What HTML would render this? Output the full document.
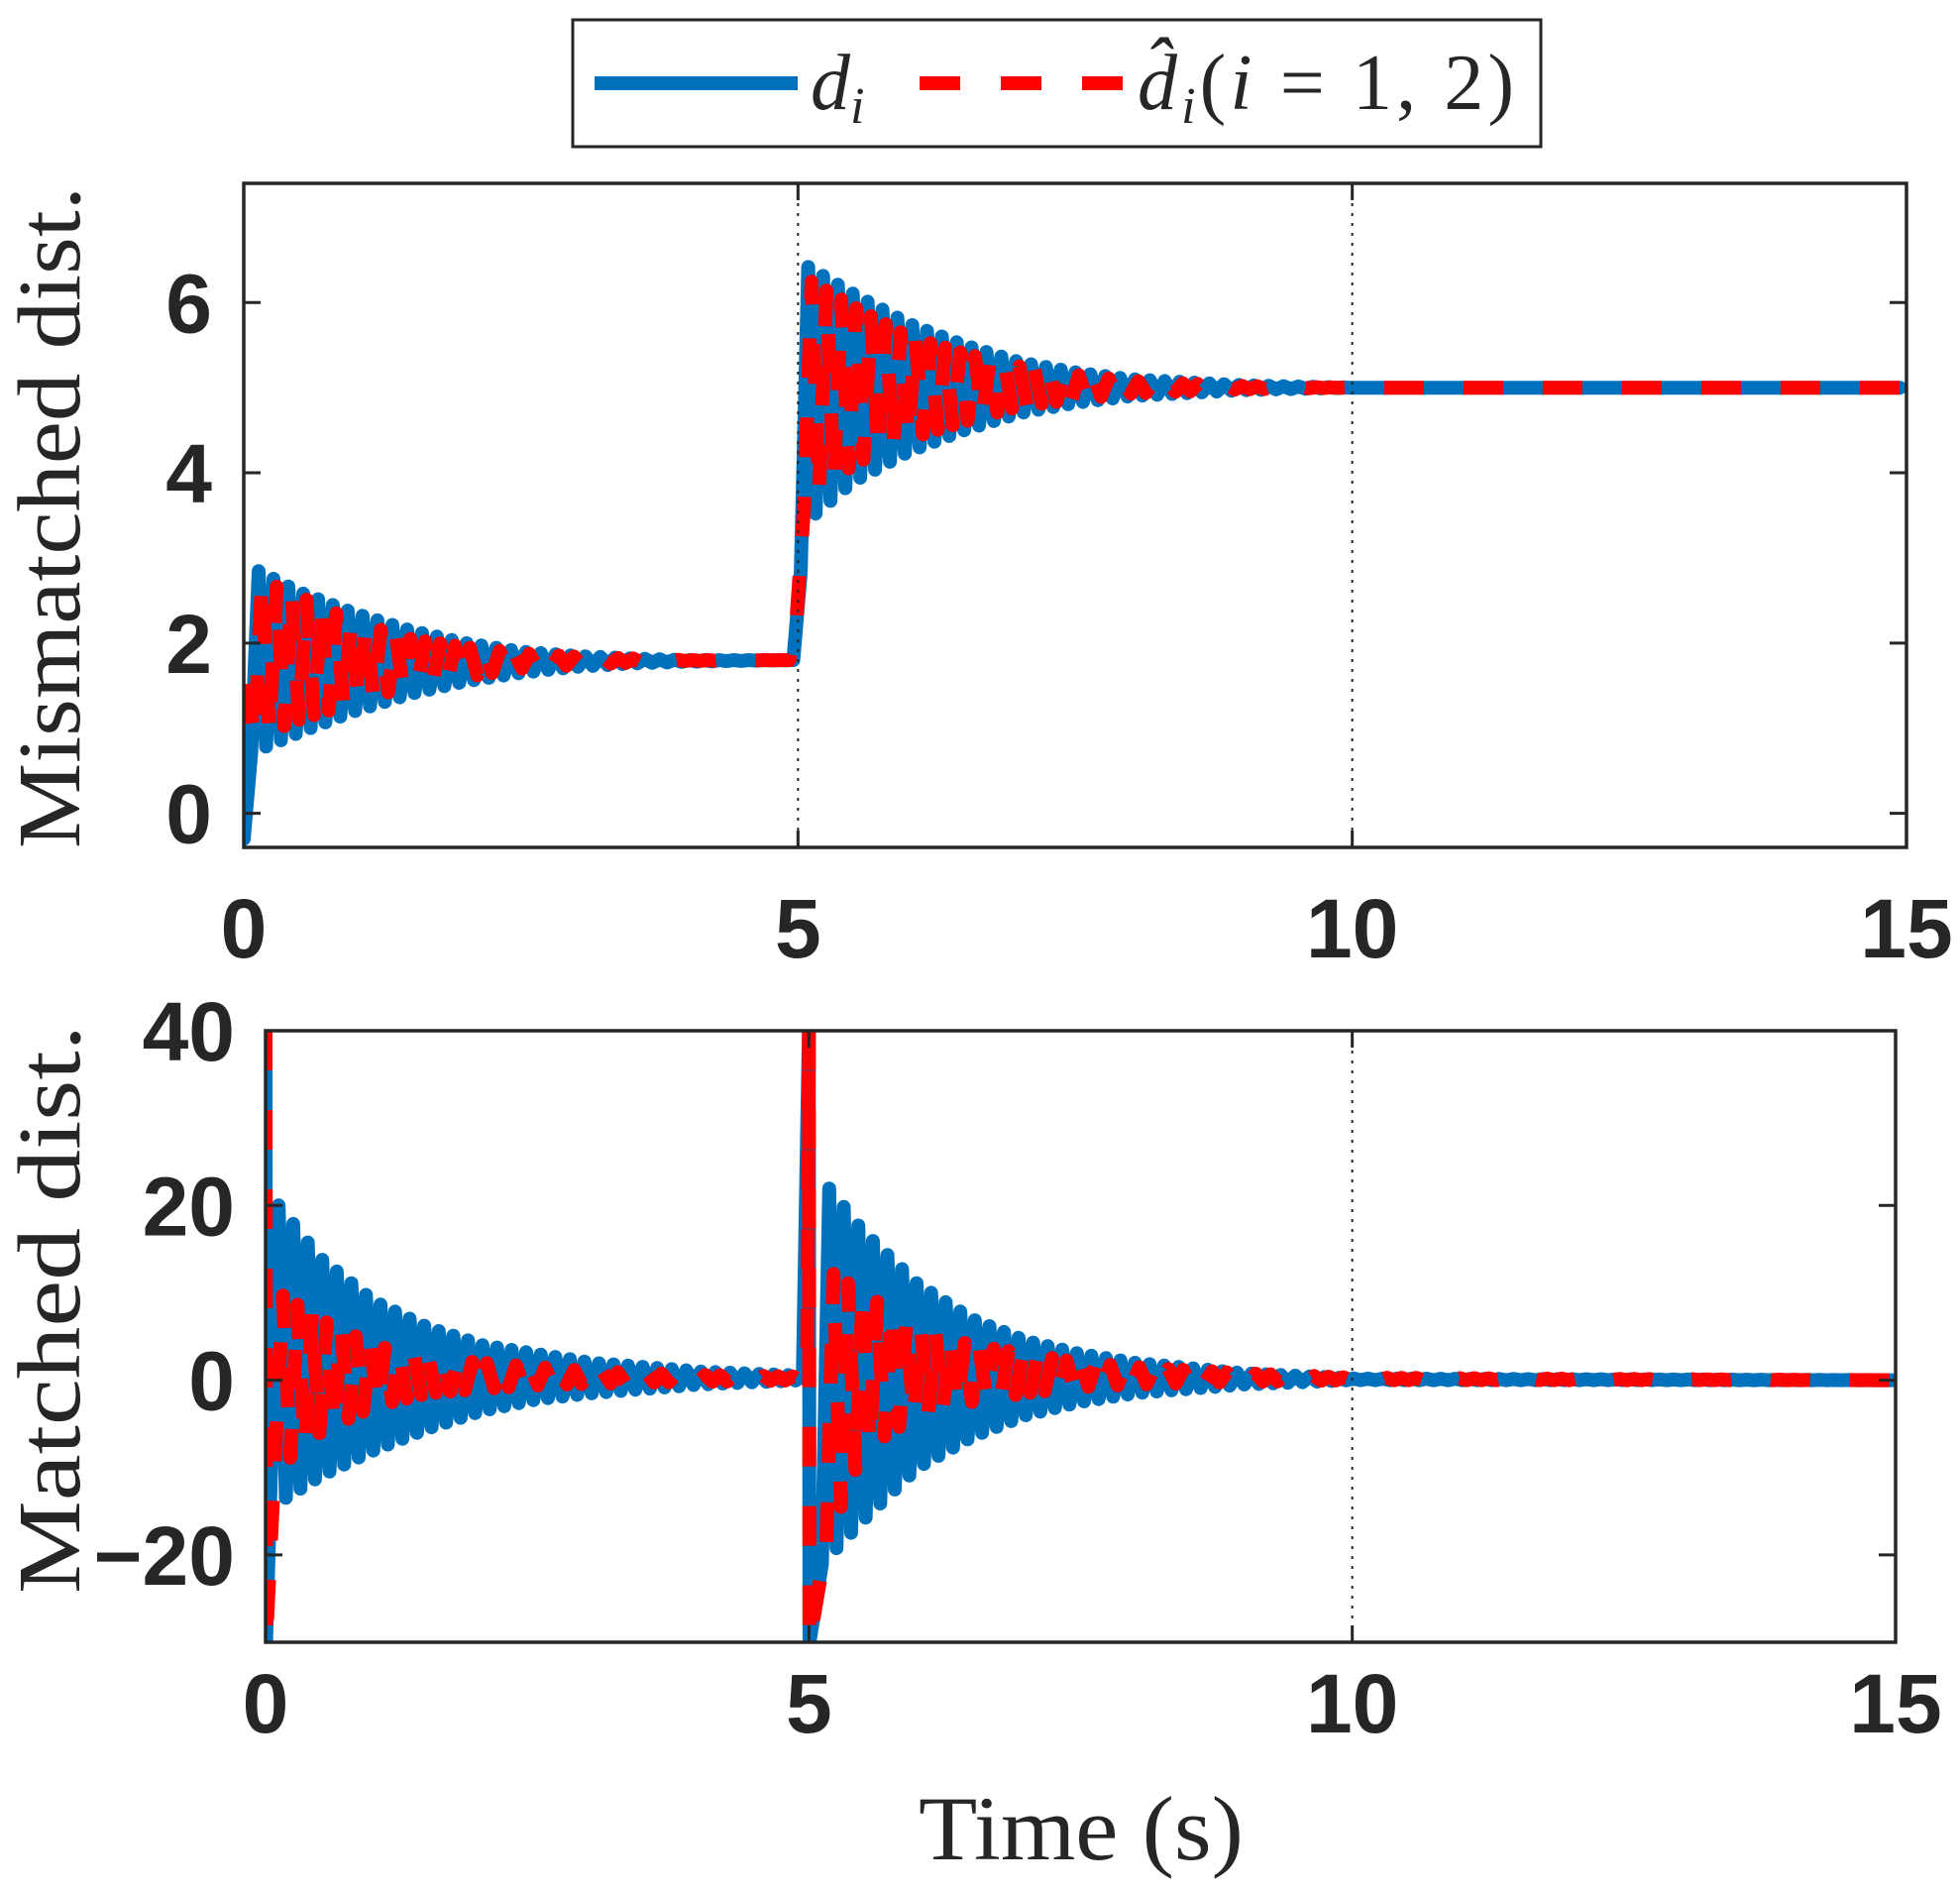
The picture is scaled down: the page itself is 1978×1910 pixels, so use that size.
<!DOCTYPE html>
<html><head><meta charset="utf-8"><style>
html,body{margin:0;padding:0;background:#fff;}
svg{display:block;}
.tk{font-family:"Liberation Sans",sans-serif;font-weight:bold;font-size:84px;fill:#262626;}
.lab{font-family:"Liberation Serif",serif;fill:#262626;}
</style></head><body>
<svg id="fig" width="1978" height="1910" viewBox="0 0 1978 1910" xmlns="http://www.w3.org/2000/svg">
<g>
<rect x="578" y="20" width="977" height="128" fill="#fff" stroke="#262626" stroke-width="3"/>
<line x1="600" y1="84" x2="805" y2="84" stroke="#0072BD" stroke-width="14"/>
<text x="818" y="110" class="lab" font-size="80" font-style="italic">d<tspan font-size="52" dy="14">i</tspan></text>
<line x1="928" y1="84" x2="1133" y2="84" stroke="#FF0000" stroke-width="14" stroke-dasharray="41,41"/>
<text x="1148" y="110" class="lab" font-size="80" textLength="380" lengthAdjust="spacing"><tspan font-style="italic">d̂</tspan><tspan font-size="52" dy="14" font-style="italic">i</tspan><tspan dy="-14">(</tspan><tspan font-style="italic">i</tspan> = 1, 2)</text>
</g>
<g id="ax1"></g>
<g id="ax2"></g>
<text class="lab" font-size="90" transform="translate(80,522) rotate(-90)" text-anchor="middle" textLength="668" lengthAdjust="spacingAndGlyphs">Mismatched dist.</text>
<text class="lab" font-size="90" transform="translate(80,1321) rotate(-90)" text-anchor="middle" textLength="574" lengthAdjust="spacingAndGlyphs">Matched dist.</text>
<text class="lab" font-size="92" x="1091" y="1876" text-anchor="middle" textLength="328" lengthAdjust="spacingAndGlyphs">Time (s)</text>
</svg>
<script>
const NS="http://www.w3.org/2000/svg";
const xTicks=[0,5,10,15];
const y1Ticks=[0,2,4,6];
const y2Ticks=[-20,0,20,40];
const period=0.134;
const tTop=[0,0.05,0.5,1,1.5,2,2.5,3,3.5,4,4.98,5.05,5.5,6,6.5,7,7.5,8,9,10,15];
const bUpTop=[-0.3,2.9,2.6,2.35,2.15,2.0,1.9,1.85,1.82,1.8,1.8,6.45,6.1,5.75,5.5,5.3,5.18,5.1,5.03,5.0,5.0];
const bLoTop=[-0.3,0.7,0.95,1.2,1.4,1.55,1.65,1.72,1.76,1.78,1.8,3.4,3.9,4.25,4.5,4.7,4.82,4.9,4.97,5.0,5.0];
const rUpTop=[-0.4,2.8,2.55,2.25,2.05,1.95,1.88,1.84,1.82,1.8,1.8,6.3,5.95,5.6,5.4,5.25,5.15,5.08,5.02,5.0,5.0];
const rLoTop=[-0.4,0.85,1.1,1.3,1.5,1.6,1.7,1.74,1.77,1.79,1.8,3.6,4.1,4.4,4.6,4.78,4.86,4.93,4.98,5.0,5.0];
const tBot=[0.12,0.5,1,1.5,2,2.5,3,4,4.98,5.12,5.5,6,6.5,7,7.5,8,9,10,15];
const bUpBot=[20,14,9,6,4,3,2,1,0.5,23,17,11,7,4.5,3,2,0.8,0.2,0];
const bLoBot=[-14,-11,-8,-5.5,-3.5,-2.2,-1.5,-0.5,0,-21,-16,-10,-6.5,-4,-2.5,-1.5,-0.5,0,0];
const rUpBot=[10,7,4,2.5,2,1.5,1,0.6,0.4,13,10,6,4,3,2,1.5,0.8,0.3,0];
const rLoBot=[-10,-6,-3,-1.5,-1,-0.6,-0.4,-0.2,0,-20,-8,-4,-2.5,-1.5,-0.8,-0.5,-0.2,0,0];
const spikeT=[0,5];
const spikeHi=[40,40];
const spikeLo=[-30,-30];
function mk(tag,attrs,parent){const e=document.createElementNS(NS,tag);for(const k in attrs)e.setAttribute(k,attrs[k]);parent.appendChild(e);return e;}
function interp(ts,vs,t){if(t<=ts[0])return vs[0];for(let i=1;i<ts.length;i++){if(t<=ts[i]){const f=(t-ts[i-1])/(ts[i]-ts[i-1]);return vs[i-1]+f*(vs[i]-vs[i-1]);}}return vs[vs.length-1];}
function axes(g,L,T,R,B,ymin,ymax,yt,xLabY,yLabR,grid){
 const X=v=>L+(v-0)/15*(R-L), Y=v=>B-(v-ymin)/(ymax-ymin)*(B-T);
 return {X,Y,frame(){
  const f=mk('g',{},g);
  
  
  grid.forEach(v=>{const l=mk('line',{x1:X(v),x2:X(v),y1:T,y2:B,stroke:'#262626','stroke-width':2,'stroke-dasharray':'3,7'},f);
   
   });
  mk('rect',{x:L,y:T,width:R-L,height:B-T,fill:'none',stroke:'#262626','stroke-width':3.5},f);
  xTicks.forEach(v=>{mk('line',{x1:X(v),x2:X(v),y1:B,y2:B-17,stroke:'#262626','stroke-width':3},f);mk('line',{x1:X(v),x2:X(v),y1:T,y2:T+17,stroke:'#262626','stroke-width':3},f);
   const t=mk('text',{x:X(v),y:xLabY,'text-anchor':'middle',class:'tk'},g);t.textContent=v;
   
   });
  yt.forEach(v=>{mk('line',{x1:L,x2:L+17,y1:Y(v),y2:Y(v),stroke:'#262626','stroke-width':3},f);mk('line',{x1:R,x2:R-17,y1:Y(v),y2:Y(v),stroke:'#262626','stroke-width':3},f);
   const t=mk('text',{x:yLabR,y:Y(v)+30,'text-anchor':'end',class:'tk'},g);t.textContent=v<0?'\u2212'+(-v):v;
   
   });
 }};
}
function series(g,ax,ts,up,lo,phase,color,dash,name,spikes,clipId){
 let pts=[];
 if(spikes){pts.push([ax.X(spikeT[0]),ax.Y(spikeHi[0])],[ax.X(spikeT[0]+0.005),ax.Y(spikeLo[0])]);}
 let k=0, did=false;
 for(let t=ts[0]+phase;t<=15;t+=period/2,k++){
  if(spikes && t>=spikeT[1] && !did){did=true;pts.push([ax.X(spikeT[1]),ax.Y(spikeHi[1])],[ax.X(spikeT[1]+0.005),ax.Y(spikeLo[1])]);t=ts[9]+phase;}
  const v=(k%2===0)?interp(ts,up,t):interp(ts,lo,t);
  pts.push([ax.X(t),ax.Y(v)]);
 }
 const p=mk('polyline',{points:pts.map(q=>q[0].toFixed(1)+','+q[1].toFixed(1)).join(' '),fill:'none',stroke:color,'stroke-width':14,'stroke-linejoin':'round','stroke-linecap':dash?'butt':'round','clip-path':'url(#'+clipId+')'},g);
 if(dash)p.setAttribute('stroke-dasharray','40,40');
 
 
}
const svg=document.getElementById('fig');
const defs=mk('defs',{},svg);
const c1=mk('clipPath',{id:'c1'},defs);mk('rect',{x:246,y:185,width:1678,height:670},c1);
const c2=mk('clipPath',{id:'c2'},defs);mk('rect',{x:268,y:1040,width:1645,height:617},c2);
const g1=document.getElementById('ax1'),g2=document.getElementById('ax2');
const a1=axes(g1,246,185,1924,855,-0.4,7.4,y1Ticks,966,214,[5,10]);
series(g1,a1,tTop,bUpTop,bLoTop,0,'#0072BD',false,'series-d-mismatched',false,'c1');
series(g1,a1,tTop,rUpTop,rLoTop,0.03,'#FF0000',true,'series-dhat-mismatched',false,'c1');
a1.frame();
const a2=axes(g2,268,1040,1913,1657,-30,40,y2Ticks,1748,237,[10]);
series(g2,a2,tBot,bUpBot,bLoBot,0,'#0072BD',false,'series-d-matched',true,'c2');
series(g2,a2,tBot,rUpBot,rLoBot,0.04,'#FF0000',true,'series-dhat-matched',true,'c2');
a2.frame();
</script>
</body></html>
